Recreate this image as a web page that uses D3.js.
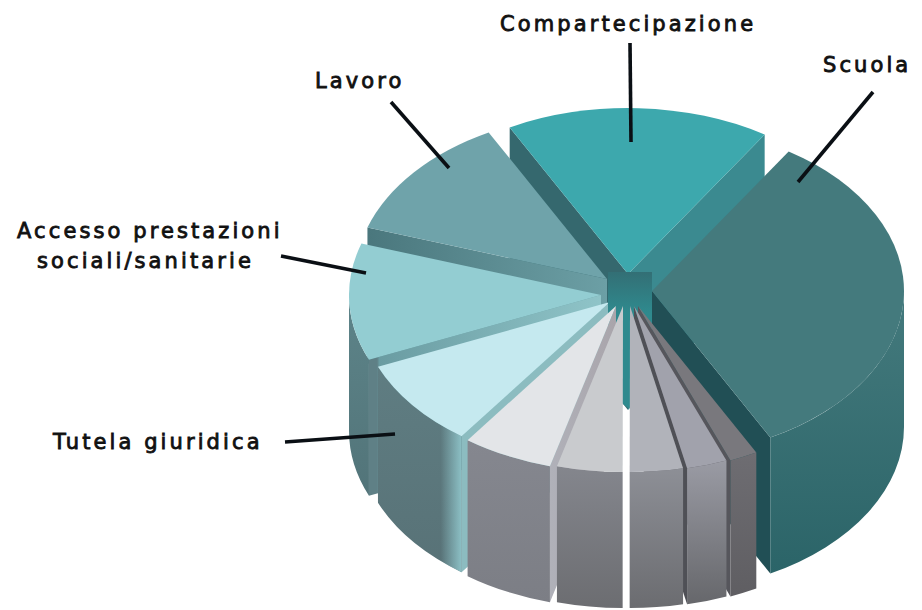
<!DOCTYPE html>
<html><head><meta charset="utf-8">
<style>html,body{margin:0;padding:0;background:#fff}svg{display:block}
text{font-family:"DejaVu Sans",sans-serif;font-weight:400;fill:#111;stroke:#111;stroke-width:.85px;letter-spacing:3.1px;font-size:21px}</style>
<script src="https://cdn.jsdelivr.net/npm/d3@7"></script></head><body>
<svg id="c" width="922" height="610"></svg>
<script>
// ---- data (shares, clockwise) ----
const categories = ["Compartecipazione","Scuola","Grigio 1","Grigio 2","Grigio 3","Grigio 4","Grigio 5","Tutela giuridica","Accesso prestazioni sociali/sanitarie","Lavoro"];
const values = [16.9,33.1,1.8,2.6,3.4,4.2,5.8,8.6,11.4,12.2];
const labelLines = [["Compartecipazione"],["Scuola"],["Lavoro"],["Accesso prestazioni","sociali/sanitarie"],["Tutela giuridica"]];

// ---- style / layout ----
const faceColors = ["#3da8ad","#447a7d","#79787d","#a1a2ac","#b1b3ba","#c9cbce","#e3e5e8","#c5e9ef","#93cdd2","#6fa3aa"];
const startWallStops = [
  [[0,"#35686e"],[1,"#35686e"]],null,null,null,null,null,
  [[0,"#b0b1b9"],[1,"#a9a5ab"]],
  [[0,"#8cbcc0"],[1,"#8cbcc0"]],
  [[0,"#5f8086"],[.035,"#5f8086"],[.045,"#6a9ca2"],[1,"#8fc4c8"]],
  [[0,"#4a777d"],[1,"#6c9fa5"]]
];
const endWall = ["#3b8a90","#214f55","#56565c","#4f5056",null,null,null,null,null,null];
const wallTop = ["#3b8a90","#447a7d","#6e6d72","#9a9ba4","#8d8f96","#84868d","#85878f","#5f7d82","#5d8489","#5d8489"];
const wallBot = ["#3b8a90","#2b6468","#5f5e62","#66676b","#6b6c70","#6c6d71","#7c7e85","#587277","#527479","#527479"];
const wallGlow = [null,null,null,null,null,null,null,"#8cc0c5",null,null];
const pull = [[4,-22],[28,-5],[14,10],[10,10],[6,10],[-1,10],[-8,10],[-14,6],[-23,-1],[-17,-17]];
const paintBack = [0,9,8,7];
const paintFront = [6,1,2,3,4,5];
const cx=624, cy=296, rx=252, ry=166, H=136, startDeg=-28;
const leaders=[[630,43,631,142],[873,92,798,182],[391,102,449,168],[281,256,366,273],[285,442,395,434]];
const labelPos=[[500,31],[823,72],[315,88],[17,238],[53,449]];
const lineGap=30, secondIndent=20;

const svg=d3.select("#c");
const defs=svg.append("defs");
const pie=d3.pie().sort(null).startAngle(startDeg*Math.PI/180).endAngle((startDeg+360)*Math.PI/180);
const arcs=pie(values);
const pt=(o,t)=>[o[0]+rx*Math.sin(t),o[1]-ry*Math.cos(t)];
const fmt=p=>p[0].toFixed(2)+","+p[1].toFixed(2);
function sector(o,a,b){
  const p0=pt(o,a),p1=pt(o,b);
  return `M${fmt(o)}L${fmt(p0)}A${rx},${ry} 0 ${b-a>Math.PI?1:0} 1 ${fmt(p1)}Z`;
}
function radial(o,t){
  const p=pt(o,t);
  return `M${fmt(o)}L${fmt(p)}L${p[0].toFixed(2)},${(p[1]+H).toFixed(2)}L${o[0].toFixed(2)},${(o[1]+H).toFixed(2)}Z`;
}
function outer(o,a,b){
  const lo=Math.max(a,Math.PI/2),hi=Math.min(b,Math.PI*1.5);
  if(hi<=lo) return null;
  const p0=pt(o,lo),p1=pt(o,hi);
  return `M${fmt(p0)}A${rx},${ry} 0 0 1 ${fmt(p1)}L${p1[0].toFixed(2)},${(p1[1]+H).toFixed(2)}A${rx},${ry} 0 0 0 ${p0[0].toFixed(2)},${(p0[1]+H).toFixed(2)}Z`;
}
function grad(id,x2,y2,stops){
  const g=defs.append("linearGradient").attr("id",id).attr("x1",0).attr("y1",0).attr("x2",x2).attr("y2",y2);
  stops.forEach(s=>g.append("stop").attr("offset",s[0]).attr("stop-color",s[1]).attr("stop-opacity",s[2]===undefined?1:s[2]));
  return `url(#${id})`;
}
const origin=i=>[cx+pull[i][0],cy+pull[i][1]];

function drawSlice(i){
  const d=arcs[i],o=origin(i),g=svg.append("g").attr("class","slice").datum(d);
  if(startWallStops[i]) g.append("path").attr("d",radial(o,d.startAngle)).attr("fill",grad("s"+i,1,0,startWallStops[i]));
  if(endWall[i]) g.append("path").attr("d",radial(o,d.endAngle)).attr("fill",endWall[i]);
  const op=outer(o,d.startAngle,d.endAngle);
  if(op){
    g.append("path").attr("d",op).attr("fill",grad("w"+i,0,1,[[0,wallTop[i]],[1,wallBot[i]]]));
    if(wallGlow[i]) g.append("path").attr("d",op).attr("fill",grad("g"+i,1,0,[[.75,wallGlow[i],0],[1,wallGlow[i],1]]));
  }
  g.append("path").attr("d",sector(o,d.startAngle,d.endAngle)).attr("fill",faceColors[i]);
}
// back slices, then the teal core, then the slices nearest the viewer
paintBack.forEach(drawSlice);
svg.append("path").attr("class","core")
  .attr("d","M608,272H652V392L628,408L608,392Z")
  .attr("fill",grad("coreFill",0,.3,[[0,"#336f75"],[1,"#2f8a8e"]]));
paintFront.forEach(drawSlice);

// leaders and labels
svg.selectAll("line.leader").data(leaders).join("line").attr("class","leader")
  .attr("x1",d=>d[0]).attr("y1",d=>d[1]).attr("x2",d=>d[2]).attr("y2",d=>d[3])
  .attr("stroke","#0a0f14").attr("stroke-width",3.6);
labelLines.forEach((ls,i)=>{
  ls.forEach((s,j)=>{
    svg.append("text").attr("x",labelPos[i][0]+(j?secondIndent:0)).attr("y",labelPos[i][1]+j*lineGap).text(s);
  });
});
</script></body></html>
